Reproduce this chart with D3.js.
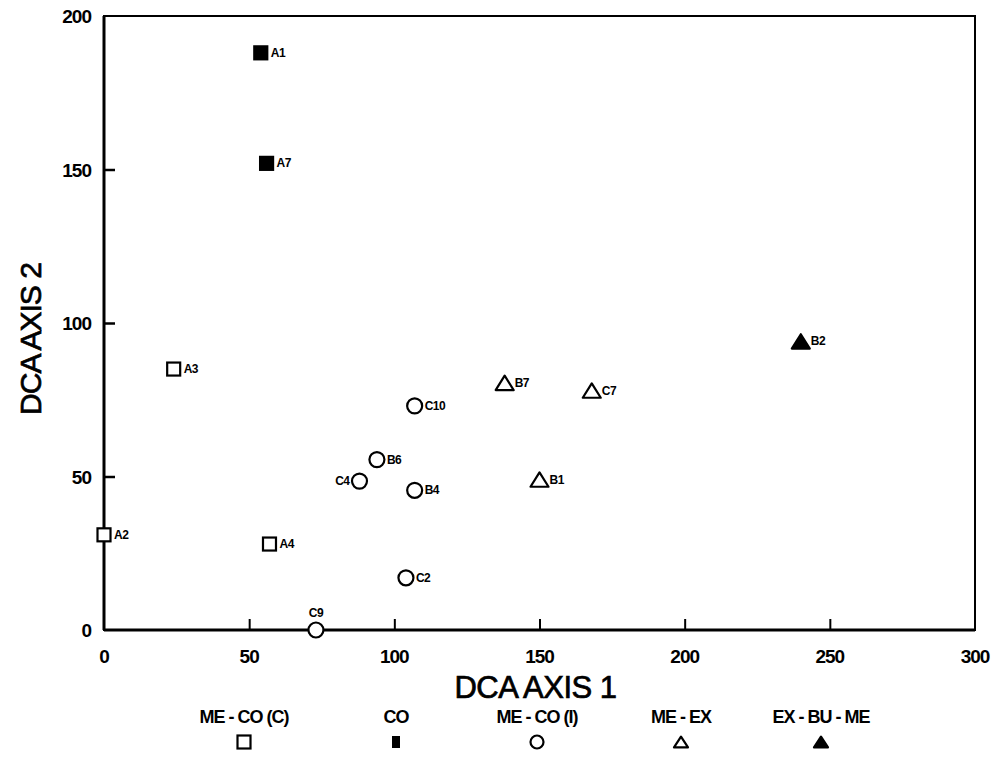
<!DOCTYPE html>
<html>
<head>
<meta charset="utf-8">
<script src="https://cdnjs.cloudflare.com/ajax/libs/d3/7.8.5/d3.min.js"></script>
<style>
  body { margin: 0; background: #fff; }
  text { font-family: "Liberation Sans", Arial, sans-serif; fill: #000; }
</style>
</head>
<body>
<div id="chart"></div>
<script>
// groups, in legend order
const groups = ["ME - CO (C)", "CO", "ME - CO (I)", "ME - EX", "EX - BU - ME"];
const groupSymbol = ["square", "squareFilled", "circle", "triangle", "triangleFilled"];

// stands: name, group, DCA axis 1, DCA axis 2
const names  = ["A1", "A7", "A3", "A2", "A4", "C9", "C4", "B6", "C10", "B4", "C2", "B7", "C7", "B1", "B2"];
const group  = [1, 1, 0, 0, 0, 2, 2, 2, 2, 2, 2, 3, 3, 3, 4];
const axis1  = [54, 56, 24, 0, 57, 73, 88, 94, 107, 107, 104, 138, 168, 150, 240];
const axis2  = [188, 152, 85, 31, 28, 0, 48.5, 55.5, 73, 45.5, 17, 80.5, 78, 49, 94];
// where each label sits relative to its marker
const labelPos = ["right", "right", "right", "right", "right", "top", "left", "right", "right", "right", "right", "right", "right", "right", "right"];

const xTicks = [0, 50, 100, 150, 200, 250, 300];
const yTicks = [0, 50, 100, 150, 200];

const data = names.map((n, i) => ({ name: n, g: group[i], x: axis1[i], y: axis2[i], pos: labelPos[i] }));

const W = 993, H = 781;
const margin = { top: 16, right: 18, bottom: 151, left: 104 };
const width = W - margin.left - margin.right;
const height = H - margin.top - margin.bottom;

const svg = d3.select("#chart").append("svg")
    .attr("width", W)
    .attr("height", H);

const g = svg.append("g")
    .attr("transform", "translate(" + margin.left + "," + margin.top + ")");

const x = d3.scaleLinear().domain([0, 300]).range([0, width]);
const y = d3.scaleLinear().domain([0, 200]).range([height, 0]);

// inner ticks
const xAxis = d3.axisTop(x).tickValues(xTicks.slice(1, -1)).tickSize(11).tickFormat("");
const yAxis = d3.axisRight(y).tickValues(yTicks.slice(1, -1)).tickSize(11).tickFormat("");

g.append("g").attr("transform", "translate(0," + height + ")").call(xAxis)
    .call(a => a.select(".domain").remove())
    .selectAll("line").attr("stroke", "#000").attr("stroke-width", 2);
g.append("g").call(yAxis)
    .call(a => a.select(".domain").remove())
    .selectAll("line").attr("stroke", "#000").attr("stroke-width", 2.5);

// frame
g.append("rect")
    .attr("x", 0).attr("y", 0)
    .attr("width", width).attr("height", height)
    .attr("fill", "none").attr("stroke", "#000").attr("stroke-width", 2);
g.append("line").attr("x1", 0).attr("x2", 0).attr("y1", 0).attr("y2", height)
    .attr("stroke", "#000").attr("stroke-width", 3);
g.append("line").attr("x1", 0).attr("x2", width).attr("y1", height).attr("y2", height)
    .attr("stroke", "#000").attr("stroke-width", 3);

// tick labels
g.selectAll(".xlab").data(xTicks).enter().append("text")
    .attr("class", "xlab")
    .attr("x", d => x(d))
    .attr("y", height + 33)
    .attr("text-anchor", "middle")
    .attr("font-size", 19)
    .attr("font-weight", "bold")
    .attr("letter-spacing", -1)
    .text(d => d);

g.selectAll(".ylab").data(yTicks).enter().append("text")
    .attr("class", "ylab")
    .attr("x", -13)
    .attr("y", d => y(d) + 7)
    .attr("text-anchor", "end")
    .attr("font-size", 19)
    .attr("font-weight", "bold")
    .attr("letter-spacing", -1)
    .text(d => d);

// axis titles
g.append("text")
    .attr("x", width / 2 - 4)
    .attr("y", height + 68)
    .attr("text-anchor", "middle")
    .attr("font-size", 31)
    .attr("letter-spacing", -0.5)
    .attr("stroke", "#000").attr("stroke-width", 0.7)
    .text("DCA AXIS 1");

g.append("text")
    .attr("transform", "translate(-63," + (height / 2 + 16) + ") rotate(-90)")
    .attr("text-anchor", "middle")
    .attr("font-size", 30)
    .attr("letter-spacing", -1)
    .attr("stroke", "#000").attr("stroke-width", 0.7)
    .text("DCA AXIS 2");

// marker drawing
function drawSymbol(sel, type, s) {
    if (type === "square" || type === "squareFilled") {
        sel.append("rect")
            .attr("x", -s / 2).attr("y", -s / 2)
            .attr("width", s).attr("height", s)
            .attr("fill", type === "squareFilled" ? "#000" : "#fff")
            .attr("stroke", "#000").attr("stroke-width", 2.2);
    } else if (type === "circle") {
        sel.append("circle").attr("r", s / 2)
            .attr("fill", "#fff").attr("stroke", "#000").attr("stroke-width", 2.2);
    } else {
        const h = s * 0.9;
        sel.append("path")
            .attr("d", `M0,${-h / 2}L${s / 2 + 1},${h / 2}L${-s / 2 - 1},${h / 2}Z`)
            .attr("fill", type === "triangleFilled" ? "#000" : "#fff")
            .attr("stroke", "#000").attr("stroke-width", 2.2).attr("stroke-linejoin", "round");
    }
}

const pts = g.selectAll(".pt").data(data).enter().append("g")
    .attr("class", "pt")
    .attr("transform", d => "translate(" + x(d.x) + "," + y(d.y) + ")");

pts.each(function(d) {
    const type = groupSymbol[d.g];
    const s = type.startsWith("triangle") ? 16 : (type === "circle" ? 15 : 13);
    drawSymbol(d3.select(this), type, s);
});

pts.append("text")
    .attr("x", d => d.pos === "right" ? 10 : (d.pos === "left" ? -10 : 0))
    .attr("y", d => d.pos === "top" ? -13 : 4)
    .attr("text-anchor", d => d.pos === "right" ? "start" : (d.pos === "left" ? "end" : "middle"))
    .attr("font-size", 12)
    .attr("font-weight", "bold")
    .attr("letter-spacing", -0.5)
    .text(d => d.name);

// legend
const legendX = [244, 396, 537, 681, 821];
const legend = svg.selectAll(".leg").data(groups).enter().append("g")
    .attr("class", "leg")
    .attr("transform", (d, i) => "translate(" + legendX[i] + ",0)");

legend.append("text")
    .attr("y", 723)
    .attr("text-anchor", "middle")
    .attr("font-size", 18)
    .attr("font-weight", "bold")
    .attr("letter-spacing", -1)
    .text(d => d);

legend.each(function(d, i) {
    const type = groupSymbol[i];
    const sg = d3.select(this).append("g").attr("transform", "translate(0,742)");
    if (type === "squareFilled") {
        sg.append("rect").attr("x", -4).attr("y", -6).attr("width", 8).attr("height", 12).attr("fill", "#000");
    } else {
        drawSymbol(sg, type, type.startsWith("triangle") ? 12 : 13);
    }
});
</script>
</body>
</html>
